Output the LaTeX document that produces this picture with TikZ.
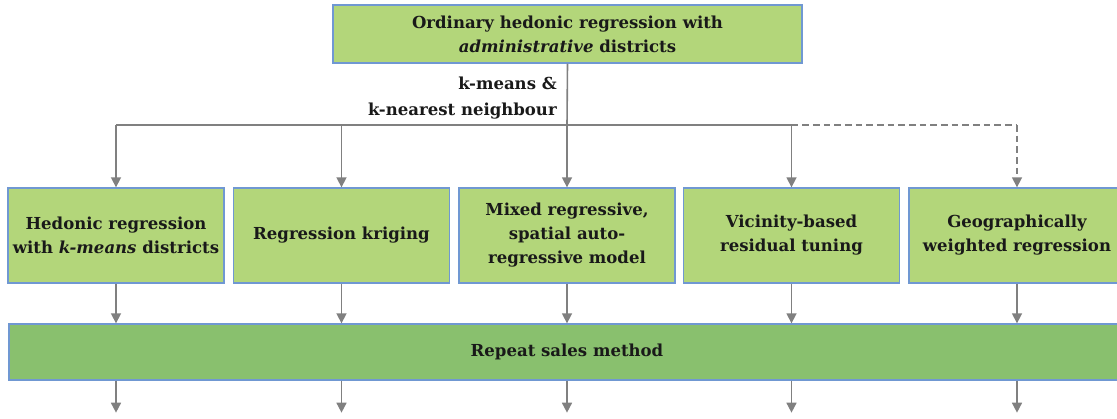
\documentclass[tikz,border=0pt]{standalone}
\usepackage{fontspec}
\setmainfont{DejaVu Serif}
\usetikzlibrary{arrows.meta}
\definecolor{lightgreen}{RGB}{179,214,122}
\definecolor{bandgreen}{RGB}{137,192,110}
\definecolor{boxblue}{RGB}{112,152,210}
\definecolor{conngray}{RGB}{128,128,128}
\begin{document}
\begin{tikzpicture}[x=0.75pt,y=-0.75pt,
  box/.style={draw=boxblue, fill=lightgreen, line width=1pt, align=center, inner sep=2pt,
    font=\bfseries\fontsize{12.4}{18}\selectfont, text=black!90},
  rowbox/.style={box, minimum width=162pt, minimum height=71.25pt},
  band/.style={box, fill=bandgreen, minimum width=837pt, minimum height=42pt},
  conn/.style={draw=conngray, line width=1.2pt},
  arr/.style={conn, -{Triangle[length=7.5pt,width=7.5pt]}},
  lbl/.style={font=\bfseries\fontsize{12.4}{19}\selectfont, text=black!90, align=right, inner sep=0pt}
]
\useasboundingbox (0,0) rectangle (1117,418);
\node[box, minimum width=351.75pt, minimum height=43.5pt] (top) at (567.5,34) {Ordinary hedonic regression with\\\textit{administrative} districts};
\node[rowbox] (r1) at (116,235.5) {Hedonic regression\\with \textit{k-means} districts};
\node[rowbox] (r2) at (341.5,235.5) {Regression kriging};
\node[rowbox] (r3) at (567,235.5) {Mixed regressive,\\spatial auto-\\regressive model};
\node[rowbox] (r4) at (791.5,235.5) {Vicinity-based\\residual tuning};
\node[rowbox] (r5) at (1017,235.5) {Geographically\\weighted regression};
\node[band] (rs) at (567,352) {Repeat sales method};
\node[lbl, anchor=east] (km) at (557,98) {k-means \&\\k-nearest neighbour};
\coordinate (j) at (567,125);
\draw[conn] (top.south) -- (j);
\draw[conn] (j -| r1.north) -- (j -| r4.north);
\draw[conn, dashed, dash pattern=on 5pt off 3pt] (j -| r4.north) -- (j -| r5.north);
\foreach \r in {r1,r2,r3,r4}{\draw[arr] (j -| \r.north) -- (\r.north);}
\draw[arr, dashed, dash pattern=on 5pt off 3pt] (j -| r5.north) -- (r5.north);
\foreach \r in {r1,r2,r3,r4,r5}{
  \draw[arr] (\r.south) -- (\r.south |- rs.north);
  \coordinate (e\r) at ([yshift=-24pt]\r.south |- rs.south);
  \draw[arr] (\r.south |- rs.south) -- (e\r);
}
\end{tikzpicture}
\end{document}
